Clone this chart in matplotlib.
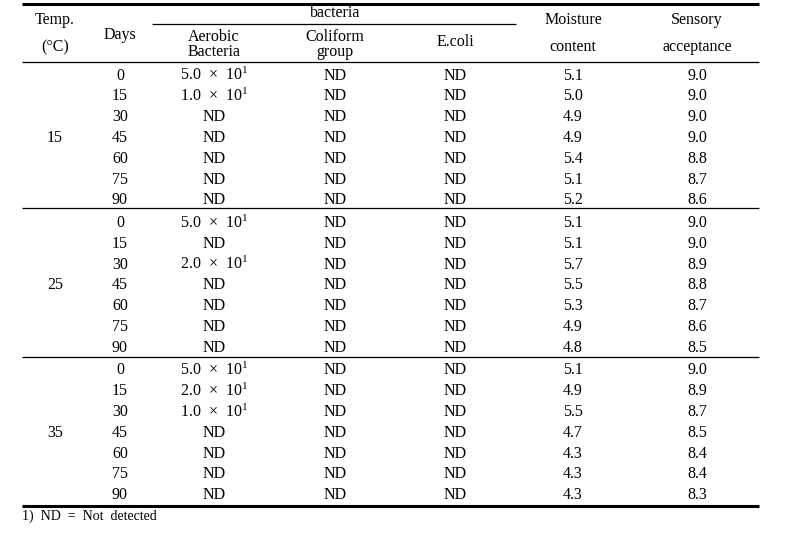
import matplotlib.pyplot as plt

plt.rcParams['font.family'] = ['Liberation Serif', 'DejaVu Serif']
plt.rcParams['mathtext.fontset'] = 'custom'
plt.rcParams['mathtext.rm'] = 'Liberation Serif'
plt.rcParams['mathtext.default'] = 'regular'

# --- table data
temps = ['15', '25', '35']
days = [0, 15, 30, 45, 60, 75, 90]

# aerobic bacteria counts (None = not detected)
aerobic_15 = [50, 10, None, None, None, None, None]
aerobic_25 = [50, None, 20, None, None, None, None]
aerobic_35 = [50, 20, 10, None, None, None, None]
coliform = ['ND'] * 7
ecoli = ['ND'] * 7

moisture_15 = [5.1, 5.0, 4.9, 4.9, 5.4, 5.1, 5.2]
moisture_25 = [5.1, 5.1, 5.7, 5.5, 5.3, 4.9, 4.8]
moisture_35 = [5.1, 4.9, 5.5, 4.7, 4.3, 4.3, 4.3]

sensory_15 = [9.0, 9.0, 9.0, 9.0, 8.8, 8.7, 8.6]
sensory_25 = [9.0, 9.0, 8.9, 8.8, 8.7, 8.6, 8.5]
sensory_35 = [9.0, 8.9, 8.7, 8.5, 8.4, 8.4, 8.3]

aerobic = [aerobic_15, aerobic_25, aerobic_35]
moisture = [moisture_15, moisture_25, moisture_35]
sensory = [sensory_15, sensory_25, sensory_35]

footnote = '1)  ND  =  Not  detected'


def fmt_count(v):
    if v is None:
        return 'ND'
    exp = len(str(int(v))) - 1
    mant = v / 10 ** exp
    return '%.1f  $\\times$  10$^{%d}$' % (mant, exp)


# --- layout (pixels)
fig = plt.figure(figsize=(8.01, 5.34), dpi=100)
ax = fig.add_axes([0, 0, 1, 1])
ax.set_xlim(0, 801)
ax.set_ylim(534, 0)
ax.axis('off')

fs = 11.5
col_x = [55, 120, 214, 335, 455, 573, 697]
x0, x1 = 22, 759

# rules
ax.hlines(4, x0, x1, color='black', lw=2.2)
ax.hlines(24, 152, 516, color='black', lw=0.9)
ax.hlines(62, x0, x1, color='black', lw=0.9)
ax.hlines([208, 357], x0, x1, color='black', lw=0.9)
ax.hlines(506, x0, x1, color='black', lw=2.2)

# header
kw = dict(ha='center', va='center', fontsize=fs)
ax.text(col_x[0], 20, 'Temp.', **kw)
ax.text(col_x[0], 47, '(°C)', **kw)
ax.text(col_x[1], 35, 'Days', **kw)
ax.text(col_x[3], 13, 'bacteria', **kw)
ax.text(col_x[2], 37, 'Aerobic', **kw)
ax.text(col_x[2], 52, 'Bacteria', **kw)
ax.text(col_x[3], 37, 'Coliform', **kw)
ax.text(col_x[3], 52, 'group', **kw)
ax.text(col_x[4], 42, 'E.coli', **kw)
ax.text(col_x[5], 20, 'Moisture', **kw)
ax.text(col_x[5], 47, 'content', **kw)
ax.text(col_x[6], 20, 'Sensory', **kw)
ax.text(col_x[6], 47, 'acceptance', **kw)

# body
for g, t in enumerate(temps):
    ytop = 75.5 + g * 147.5
    ax.text(col_x[0], ytop + 3 * 20.8, t, **kw)
    for i, d in enumerate(days):
        y = ytop + i * 20.8
        ax.text(col_x[1], y, str(d), **kw)
        ax.text(col_x[2], y, fmt_count(aerobic[g][i]), **kw)
        ax.text(col_x[3], y, coliform[i], **kw)
        ax.text(col_x[4], y, ecoli[i], **kw)
        ax.text(col_x[5], y, '%.1f' % moisture[g][i], **kw)
        ax.text(col_x[6], y, '%.1f' % sensory[g][i], **kw)

ax.text(x0, 516, footnote, ha='left', va='center', fontsize=10)

fig.savefig('out.png', dpi=100)
